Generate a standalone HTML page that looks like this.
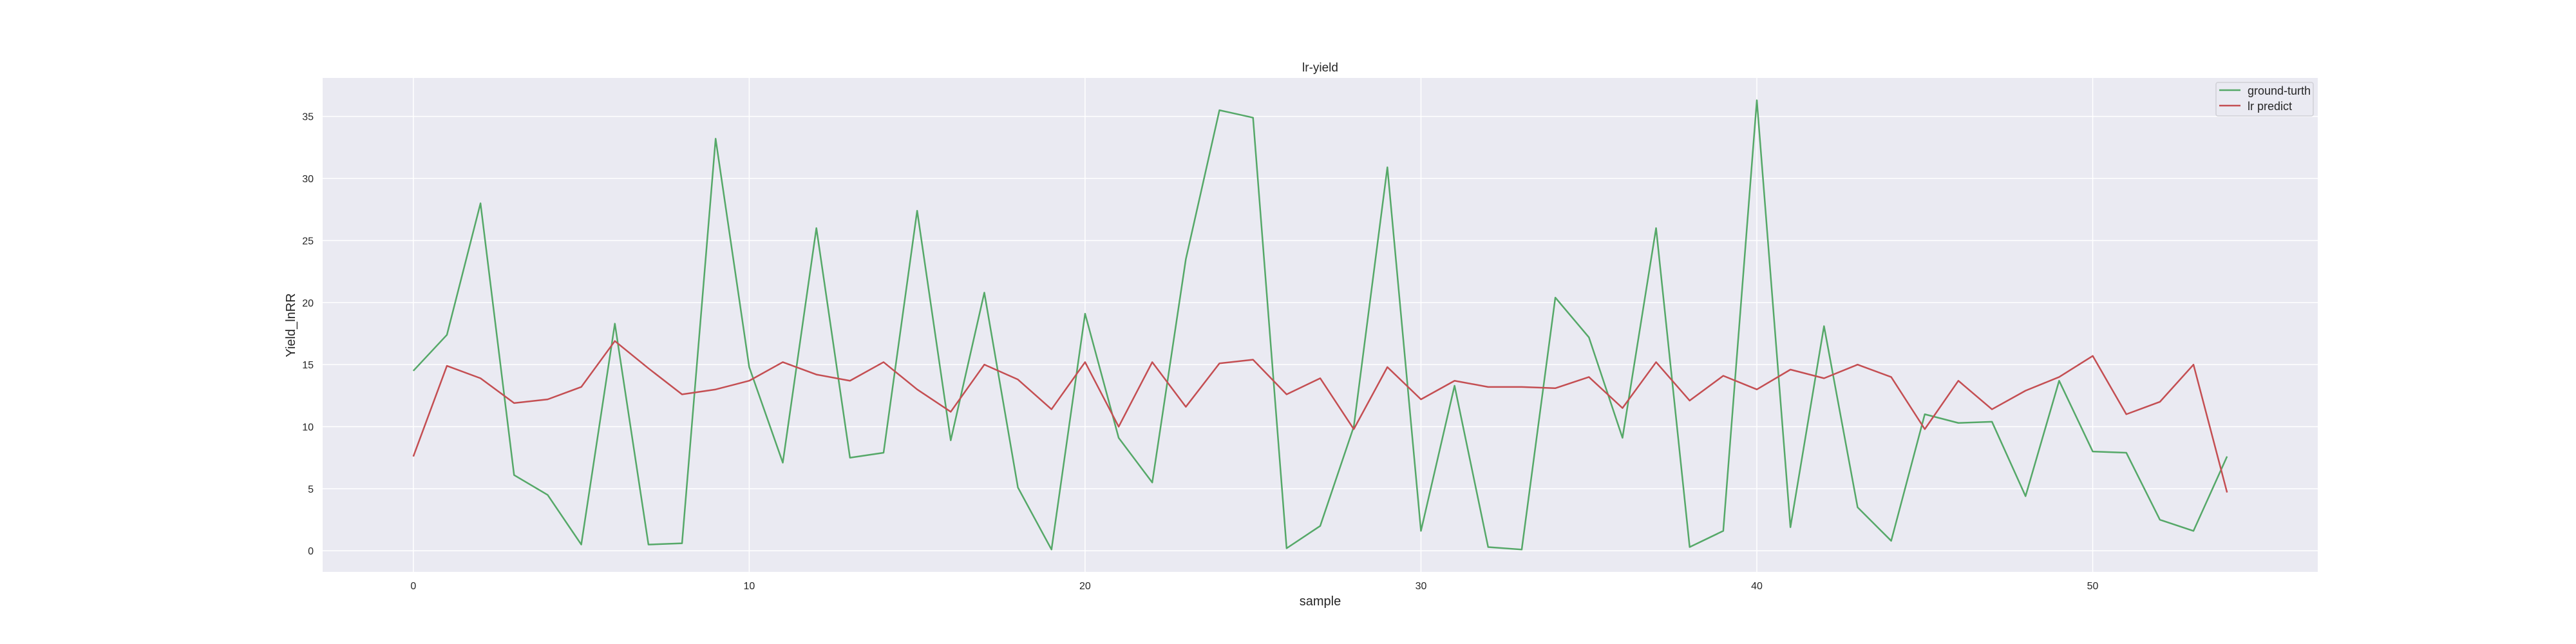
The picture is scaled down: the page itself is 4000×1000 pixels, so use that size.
<!DOCTYPE html>
<html><head><meta charset="utf-8"><style>
html,body{margin:0;padding:0;background:#fff;}
svg{display:block;font-family:"Liberation Sans",sans-serif;}
</style></head><body>
<svg id="chart" width="4000" height="1000" viewBox="0 0 4000 1000">
<rect x="501" y="121" width="3098" height="767" fill="#eaeaf2"/>
<g id="grid"></g>
<g id="ticks"></g>
<g id="series"></g>
<text x="2050" y="111" text-anchor="middle" font-size="19" fill="#262626">lr-yield</text>
<text x="2050" y="940" text-anchor="middle" font-size="20" fill="#262626">sample</text>
<text x="458" y="505" text-anchor="middle" font-size="20" fill="#262626" transform="rotate(-90 458 505)">Yield_lnRR</text>
<g>
<rect x="3441" y="128" width="151" height="52" rx="3" fill="#eaeaf2" stroke="#cfcfd6" stroke-width="1.5"/>
<line x1="3446" y1="140" x2="3479" y2="140" stroke="#55a868" stroke-width="2.5"/>
<text x="3490" y="147" font-size="18" fill="#262626">ground-turth</text>
<line x1="3446" y1="164" x2="3479" y2="164" stroke="#c44e52" stroke-width="2.5"/>
<text x="3490" y="171" font-size="18" fill="#262626">lr predict</text>
</g>
</svg>
<script>
const groundTruth = [14.5,17.4,28.0,6.1,4.5,0.5,18.3,0.5,0.6,33.2,14.8,7.1,26.0,7.5,7.9,27.4,8.9,20.8,5.1,0.1,19.1,9.1,5.5,23.5,35.5,34.9,0.2,2.0,10.0,30.9,1.6,13.3,0.3,0.1,20.4,17.2,9.1,26.0,0.3,1.6,36.3,1.9,18.1,3.5,0.8,11.0,10.3,10.4,4.4,13.7,8.0,7.9,2.5,1.6,7.6];
const lrPredict = [7.6,14.9,13.9,11.9,12.2,13.2,16.9,14.7,12.6,13.0,13.7,15.2,14.2,13.7,15.2,13.0,11.2,15.0,13.8,11.4,15.2,10.0,15.2,11.6,15.1,15.4,12.6,13.9,9.8,14.8,12.2,13.7,13.2,13.2,13.1,14.0,11.5,15.2,12.1,14.1,13.0,14.6,13.9,15.0,14.0,9.8,13.7,11.4,12.9,14.0,15.7,11.0,12.0,15.0,4.7];
const xTicks = [0,10,20,30,40,50];
const yTicks = [0,5,10,15,20,25,30,35];
const NS="http://www.w3.org/2000/svg";
const L=501,R=3599,T=121,B=888;
const xMin=-2.7,xMax=56.7,yMin=-1.7,yMax=38.1;
function xs(v){return L+(v-xMin)/(xMax-xMin)*(R-L);}
function ys(v){return B-(v-yMin)/(yMax-yMin)*(B-T);}
function mk(tag,attrs,parent){const e=document.createElementNS(NS,tag);for(const k in attrs)e.setAttribute(k,attrs[k]);parent.appendChild(e);return e;}
const grid=document.getElementById('grid'),ticks=document.getElementById('ticks'),series=document.getElementById('series');
xTicks.forEach(t=>{
  const g=mk('line',{x1:xs(t),x2:xs(t),y1:T,y2:B,stroke:'#fff','stroke-width':1.5},grid);
  
  
  const tx=mk('text',{x:xs(t),y:915,'text-anchor':'middle','font-size':16,fill:'#262626'},ticks);
  tx.textContent=t;
  
  
});
yTicks.forEach(t=>{
  const g=mk('line',{x1:L,x2:R,y1:ys(t),y2:ys(t),stroke:'#fff','stroke-width':1.5},grid);
  
  
  const tx=mk('text',{x:487,y:ys(t)+6,'text-anchor':'end','font-size':16,fill:'#262626'},ticks);
  tx.textContent=t;
  
  
});
function line(data,color,name){
  const p=mk('polyline',{points:data.map((v,i)=>xs(i)+','+ys(v)).join(' '),fill:'none',stroke:color,'stroke-width':2.5,'stroke-linejoin':'round'},series);
  
  
}
line(groundTruth,'#55a868','ground-turth-line');
line(lrPredict,'#c44e52','lr-predict-line');
</script>
</body></html>
